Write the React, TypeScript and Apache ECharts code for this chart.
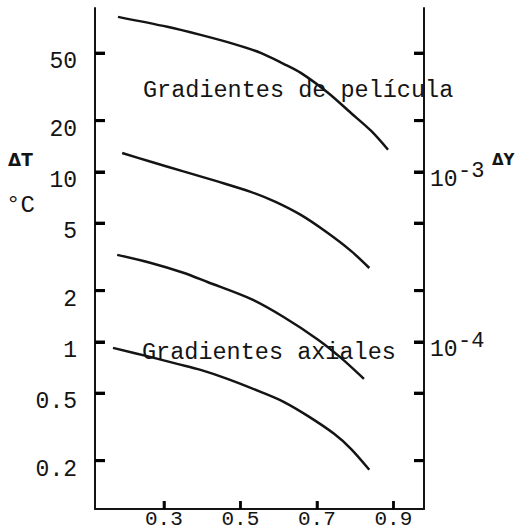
import React, { useEffect, useRef } from "react";
import * as echarts from "echarts";

// X axis ticks
const xTickValues = [0.3, 0.5, 0.7, 0.9];
// Left axis ΔT (°C), logarithmic
const leftTickValues = [0.2, 0.5, 1, 2, 5, 10, 20, 50];
// Right axis ΔY, logarithmic
const rightTickValues = [2e-5, 5e-5, 1e-4, 2e-4, 5e-4, 1e-3, 2e-3, 5e-3];
const rightLabelValues = [1e-4, 1e-3];

// Axis ranges
const X_MIN = 0.12;
const X_MAX = 0.98;
const Y_MIN = 0.104;
const Y_MAX = 92;
const Y2_MIN = 0.104e-4;
const Y2_MAX = 92e-4;

// Gradientes de película (upper pair)
const peliculaAX = [0.18, 0.309, 0.396, 0.482, 0.553, 0.613, 0.658, 0.729, 0.789, 0.842, 0.886];
const peliculaAY = [81.6, 71.3, 63.9, 56.6, 50.1, 43.2, 38.2, 29.2, 22.2, 17.4, 13.5];
const peliculaBX = [0.191, 0.264, 0.351, 0.44, 0.527, 0.592, 0.658, 0.724, 0.789, 0.837];
const peliculaBY = [12.9, 11.5, 10.07, 8.79, 7.63, 6.66, 5.58, 4.44, 3.43, 2.72];

// Gradientes axiales (lower pair)
const axialAX = [0.178, 0.264, 0.351, 0.414, 0.527, 0.613, 0.703, 0.763, 0.823];
const axialAY = [3.25, 2.92, 2.55, 2.25, 1.79, 1.4, 1.03, 0.805, 0.606];
const axialBX = [0.167, 0.264, 0.335, 0.396, 0.466, 0.553, 0.613, 0.676, 0.745, 0.789, 0.837];
const axialBY = [0.922, 0.816, 0.742, 0.684, 0.606, 0.508, 0.444, 0.367, 0.288, 0.235, 0.177];

const FONT = '"Liberation Mono", "DejaVu Sans Mono", monospace';
const INK = "#141414";
const TICK = "#000000";

// tick length expressed in axis units (≈10 px horizontally, ≈8 px vertically)
const X_TICK_LEN = 0.026;
const Y_TICK_FACTOR = 1.114;

const pairs = (xs: number[], ys: number[]) => xs.map((x, i) => [x, ys[i]]);

export default function App() {
  const ref = useRef<HTMLDivElement>(null);

  useEffect(() => {
    if (!ref.current) return;
    const chart = echarts.init(ref.current, null, { renderer: "svg" });

    const lineSeries = (xs: number[], ys: number[]) => ({
      type: "line",
      data: pairs(xs, ys),
      smooth: 0.3,
      showSymbol: false,
      lineStyle: { color: INK, width: 2.5 },
    });

    const tickMarkLine = (segs: number[][][], width: number) => ({
      symbol: "none",
      silent: true,
      label: { show: false },
      lineStyle: { color: TICK, width, type: "solid" },
      data: segs.map((s) => [{ coord: s[0] }, { coord: s[1] }]),
    });

    chart.setOption({
      animation: false,
      backgroundColor: "#ffffff",
      grid: { left: 95, right: 97, top: 8, bottom: 22, containLabel: false, outerBoundsMode: "none" },
      xAxis: {
        type: "value",
        min: X_MIN,
        max: X_MAX,
        axisLine: { show: true, lineStyle: { color: INK, width: 2 } },
        axisTick: { show: false },
        axisLabel: {
          customValues: xTickValues,
          formatter: (v: number) => v.toFixed(1),
          fontFamily: FONT,
          fontSize: 21,
          color: INK,
          margin: 0,
          verticalAlign: "top",
          lineHeight: 20,
        },
        splitLine: { show: false },
      },
      yAxis: [
        {
          type: "log",
          logBase: 10,
          min: Y_MIN,
          max: Y_MAX,
          position: "left",
          axisLine: { show: true, lineStyle: { color: INK, width: 2 } },
          axisTick: { show: false },
          axisLabel: {
            customValues: leftTickValues,
            fontFamily: FONT,
            fontSize: 23,
            color: INK,
            margin: 18,
            verticalAlign: "top",
            lineHeight: 18,
          },
          splitLine: { show: false },
        },
        {
          type: "log",
          logBase: 10,
          min: Y2_MIN,
          max: Y2_MAX,
          position: "right",
          axisLine: { show: true, lineStyle: { color: INK, width: 2 } },
          axisTick: { show: false },
          axisLabel: {
            customValues: rightLabelValues,
            formatter: () => "10",
            fontFamily: FONT,
            fontSize: 23,
            color: INK,
            margin: 6,
            verticalAlign: "top",
            lineHeight: 16,
          },
          splitLine: { show: false },
        },
        {
          // exponents of the right-hand labels (superscripts)
          type: "log",
          logBase: 10,
          min: Y2_MIN,
          max: Y2_MAX,
          position: "right",
          offset: 0,
          axisLine: { show: false },
          axisTick: { show: false },
          axisLabel: {
            customValues: rightLabelValues,
            formatter: (v: number) => String(Math.round(Math.log10(v))),
            fontFamily: FONT,
            fontSize: 22,
            color: INK,
            margin: 34,
            verticalAlign: "middle",
          },
          splitLine: { show: false },
        },
      ],
      series: [
        lineSeries(peliculaAX, peliculaAY),
        lineSeries(peliculaBX, peliculaBY),
        lineSeries(axialAX, axialAY),
        lineSeries(axialBX, axialBY),
        {
          type: "scatter",
          data: leftTickValues.map((v) => [X_MIN, v]),
          symbol: "rect",
          symbolSize: [10, 3],
          symbolOffset: [5, 0],
          itemStyle: { color: TICK },
          markLine: tickMarkLine(leftTickValues.map((v) => [[X_MIN, v], [X_MIN + X_TICK_LEN, v]]), 3),
        },
        {
          type: "scatter",
          yAxisIndex: 1,
          data: rightTickValues.map((v) => [X_MAX, v]),
          symbol: "rect",
          symbolSize: [10, 3],
          symbolOffset: [-5, 0],
          itemStyle: { color: TICK },
          markLine: tickMarkLine(rightTickValues.map((v) => [[X_MAX, v], [X_MAX - X_TICK_LEN, v]]), 3),
        },
        {
          type: "scatter",
          data: xTickValues.map((v) => [v, Y_MIN]),
          symbol: "rect",
          symbolSize: [2.5, 8],
          symbolOffset: [0, -4],
          itemStyle: { color: TICK },
          markLine: tickMarkLine(xTickValues.map((v) => [[v, Y_MIN], [v, Y_MIN * Y_TICK_FACTOR]]), 2.5),
        },
      ],
    });

    chart.setOption({
      graphic: [
        {
          type: "text",
          x: 143,
          y: 90,
          style: { text: "Gradientes de película", fontFamily: FONT, fontSize: 23.5, fill: INK, verticalAlign: "middle" },
        },
        {
          type: "text",
          x: 142,
          y: 352,
          style: { text: "Gradientes axiales", fontFamily: FONT, fontSize: 23.5, fill: INK, verticalAlign: "middle" },
        },
        {
          type: "text",
          x: 8,
          y: 160,
          style: { text: "ΔT", fontFamily: "DejaVu Sans", fontWeight: "bold", fontSize: 17, fill: INK, verticalAlign: "middle" },
        },
        {
          type: "text",
          x: 6,
          y: 205,
          style: { text: "°C", fontFamily: FONT, fontSize: 24, fill: INK, verticalAlign: "middle" },
        },
        {
          type: "text",
          x: 492,
          y: 160,
          style: { text: "ΔY", fontFamily: "DejaVu Sans", fontWeight: "bold", fontSize: 15, fill: INK, verticalAlign: "middle" },
        },
      ],
    });

    return () => chart.dispose();
  }, []);

  return <div ref={ref} style={{ width: 521, height: 531, position: "absolute", left: 0, top: 0 }} />;
}
